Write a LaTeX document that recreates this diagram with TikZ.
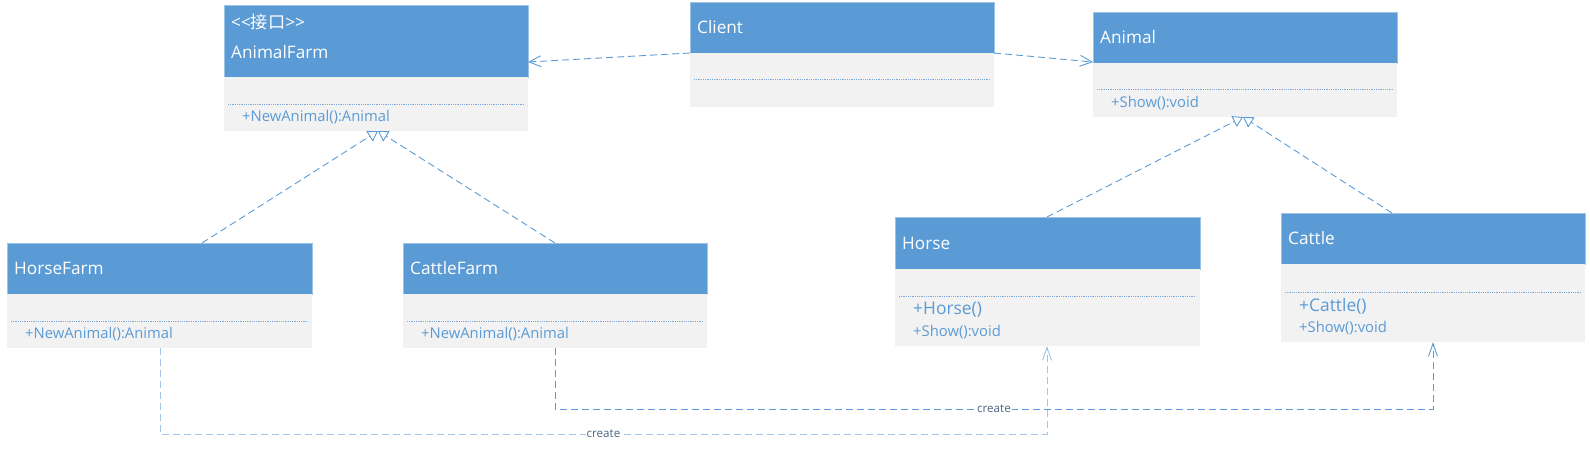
\documentclass[tikz,border=0pt]{standalone}
\usepackage{fontspec}
\setmainfont{Open Sans}
\newfontfamily\cjk{Noto Sans CJK SC}
\usetikzlibrary{positioning,calc,arrows.meta}
\definecolor{hdrblue}{HTML}{5B9BD5}
\definecolor{hdrline}{HTML}{9DC3E6}
\definecolor{sepblue}{HTML}{7FA9DA}
\definecolor{bodygray}{HTML}{F2F2F2}
\definecolor{opblue}{HTML}{5B9BD5}
\definecolor{linkblue}{HTML}{5B9BD5}
\definecolor{lightlink}{HTML}{A3C4E8}
\definecolor{lbltext}{HTML}{4A6582}

\tikzset{
    hdr/.style={fill=hdrblue, draw=hdrline, line width=0.5pt, anchor=north west, inner sep=0pt, outer sep=0pt},
    bdy/.style={fill=bodygray, inner sep=0pt, outer sep=0pt},
    title/.style={anchor=west, inner sep=0pt, text=white, font=\fontsize{17.2}{19}\selectfont},
    op/.style={anchor=west, inner sep=0pt, text=opblue, font=\fontsize{14.8}{16}\selectfont},
    ctor/.style={op, font=\fontsize{17.4}{19}\selectfont},
    sep/.style={sepblue, line width=1pt, dash pattern=on 1pt off 0.8pt},
    link/.style={linkblue, line width=0.9pt, dash pattern=on 7pt off 4pt},
    dep/.style={link, -{Straight Barb[length=12pt, width=11pt]}},
    real/.style={link, -{Triangle[open, length=10pt, width=12pt]}},
    create/.style={link, -{Straight Barb[length=13pt, width=9pt]}},
    lbl/.style={fill=white, inner sep=1pt, text=lbltext, font=\fontsize{11.6}{12}\selectfont}
}

\begin{document}
\begin{tikzpicture}[x=1pt, y=-1pt]
    \useasboundingbox (0,0) rectangle (1590,449);

    % AnimalFarm
    \node[hdr, minimum width=304, minimum height=72] (afH) at (224,5) {};
    \node[bdy, minimum width=304, minimum height=54, below=0pt of afH] (afB) {};
    \node[title] (afS) at ($(afH.north west)+(7,17)$) {<{}<{\cjk 接口}>{}>};
    \node[title] (afT) at ($(afH.north west)+(7,47)$) {AnimalFarm};
    \draw[sep] ($(afB.north west)+(4,28)$) -- ($(afB.north east)+(-4,28)$);
    \node[op] (afO) at ($(afB.north west)+(18,40)$) {+NewAnimal():Animal};

    % Client
    \node[hdr, minimum width=304, minimum height=51] (clH) at (690,2) {};
    \node[bdy, minimum width=304, minimum height=54, below=0pt of clH] (clB) {};
    \node[title, right=7pt of clH.west] (clT) {Client};
    \draw[sep] ($(clB.north west)+(4,27)$) -- ($(clB.north east)+(-4,27)$);

    % Animal
    \node[hdr, minimum width=304, minimum height=51] (anH) at (1093,12) {};
    \node[bdy, minimum width=304, minimum height=54, below=0pt of anH] (anB) {};
    \node[title, right=7pt of anH.west] (anT) {Animal};
    \draw[sep] ($(anB.north west)+(4,27)$) -- ($(anB.north east)+(-4,27)$);
    \node[op] (anO) at ($(anB.north west)+(18,40)$) {+Show():void};

    % HorseFarm
    \node[hdr, minimum width=305, minimum height=51] (hfH) at (7,243) {};
    \node[bdy, minimum width=305, minimum height=54, below=0pt of hfH] (hfB) {};
    \node[title, right=7pt of hfH.west] (hfT) {HorseFarm};
    \draw[sep] ($(hfB.north west)+(4,27)$) -- ($(hfB.north east)+(-4,27)$);
    \node[op] (hfO) at ($(hfB.north west)+(18,40)$) {+NewAnimal():Animal};

    % CattleFarm
    \node[hdr, minimum width=304, minimum height=51] (cfH) at (403,243) {};
    \node[bdy, minimum width=304, minimum height=54, below=0pt of cfH] (cfB) {};
    \node[title, right=7pt of cfH.west] (cfT) {CattleFarm};
    \draw[sep] ($(cfB.north west)+(4,27)$) -- ($(cfB.north east)+(-4,27)$);
    \node[op] (cfO) at ($(cfB.north west)+(18,40)$) {+NewAnimal():Animal};

    % Horse
    \node[hdr, minimum width=305, minimum height=52] (hoH) at (895,217) {};
    \node[bdy, minimum width=305, minimum height=77, below=0pt of hoH] (hoB) {};
    \node[title, right=7pt of hoH.west] (hoT) {Horse};
    \draw[sep] ($(hoB.north west)+(4,27)$) -- ($(hoB.north east)+(-4,27)$);
    \node[ctor] (hoC) at ($(hoB.north west)+(18,41)$) {+Horse()};
    \node[op] (hoO) at ($(hoB.north west)+(18,63)$) {+Show():void};

    % Cattle
    \node[hdr, minimum width=304, minimum height=51] (caH) at (1281,213) {};
    \node[bdy, minimum width=304, minimum height=78, below=0pt of caH] (caB) {};
    \node[title, right=7pt of caH.west] (caT) {Cattle};
    \draw[sep] ($(caB.north west)+(4,28)$) -- ($(caB.north east)+(-4,28)$);
    \node[ctor] (caC) at ($(caB.north west)+(18,42)$) {+Cattle()};
    \node[op] (caO) at ($(caB.north west)+(18,64)$) {+Show():void};

    % dependencies
    \draw[dep] (clH.south west) -- ([yshift=15pt]afH.south east);
    \draw[dep] (clH.south east) -- ([yshift=1pt]anH.south west);

    % realizations
    \draw[real] ([xshift=195pt]hfH.north west) -- ([xshift=154pt]afB.south west);
    \draw[real] ([xshift=152pt]cfH.north west) -- ([xshift=154pt]afB.south west);
    \draw[real] ([xshift=152pt]hoH.north west) -- ([xshift=150pt]anB.south west);
    \draw[real] ([xshift=111pt]caH.north west) -- ([xshift=150pt]anB.south west);

    % create
    \draw[create, lightlink] ([xshift=153pt]hfB.south west) -- ++(0,86)
        -| node[pos=0.25, lbl] {create} ([xshift=152pt]hoB.south west);
    \draw[create] ([xshift=152pt]cfB.south west) -- ++(0,61)
        -| node[pos=0.25, lbl] {create} ([xshift=152pt]caB.south west);
\end{tikzpicture}
\end{document}
